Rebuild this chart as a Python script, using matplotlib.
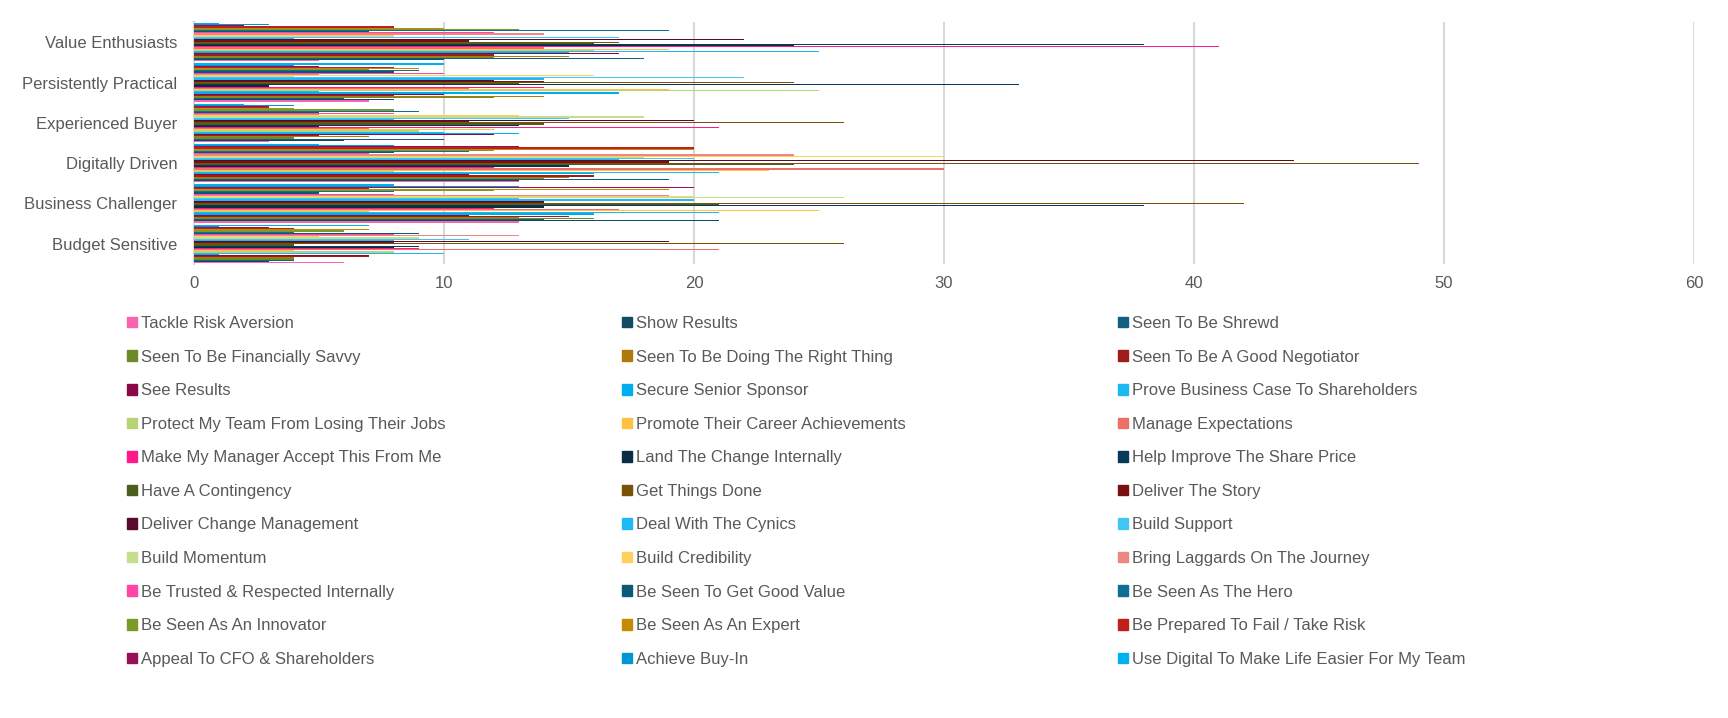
import numpy as np
import matplotlib
matplotlib.use("Agg")
from matplotlib import pyplot as plt
from matplotlib.patches import Patch

plt.rcParams['font.family'] = ['Liberation Sans', 'DejaVu Sans']

categories = ["Budget Sensitive", "Business Challenger", "Digitally Driven",
              "Experienced Buyer", "Persistently Practical", "Value Enthusiasts"]

series_names = [
    "Tackle Risk Aversion", "Show Results", "Seen To Be Shrewd",
    "Seen To Be Financially Savvy", "Seen To Be Doing The Right Thing", "Seen To Be A Good Negotiator",
    "See Results", "Secure Senior Sponsor", "Prove Business Case To Shareholders",
    "Protect My Team From Losing Their Jobs", "Promote Their Career Achievements", "Manage Expectations",
    "Make My Manager Accept This From Me", "Land The Change Internally", "Help Improve The Share Price",
    "Have A Contingency", "Get Things Done", "Deliver The Story",
    "Deliver Change Management", "Deal With The Cynics", "Build Support",
    "Build Momentum", "Build Credibility", "Bring Laggards On The Journey",
    "Be Trusted & Respected Internally", "Be Seen To Get Good Value", "Be Seen As The Hero",
    "Be Seen As An Innovator", "Be Seen As An Expert", "Be Prepared To Fail / Take Risk",
    "Appeal To CFO & Shareholders", "Achieve Buy-In", "Use Digital To Make Life Easier For My Team",
]

series_colors = [
    "#F765B0", "#114A64", "#135F80", "#6E8B2A", "#B07A0A", "#A11B1B",
    "#8A0845", "#00AEEF", "#1EB8F0", "#B5D574", "#FFC043", "#EE6F6A",
    "#FF1A8C", "#0A2C45", "#073A5A", "#4B5F1C", "#7A5205", "#7A1010",
    "#5A0A2E", "#1EBAF5", "#44C6F5", "#C4DE8E", "#FFD060", "#F08680",
    "#FF45A8", "#0B5878", "#0E6E96", "#7A9A2A", "#C68A00", "#C0201C",
    "#99105A", "#0096D6", "#00B0F0",
]

budget_sensitive = [7, 1, 3, 4, 7, 6, 4, 9, 8, 13, 5, 9, 11, 8, 19, 8, 26, 4, 9, 8,
                    9, 21, 4, 8, 10, 1, 7, 7, 4, 4, 4, 3, 6]
business_challenger = [8, 13, 20, 7, 19, 12, 8, 5, 8, 19, 20, 26, 13, 20, 14, 14, 42, 21, 38, 14,
                       12, 17, 25, 7, 21, 16, 11, 15, 13, 16, 14, 21, 13]
digitally_driven = [5, 8, 13, 20, 20, 12, 11, 8, 7, 24, 30, 18, 20, 17, 44, 19, 49, 24, 15, 15,
                    12, 30, 23, 8, 21, 16, 11, 16, 15, 14, 19, 13, 13]
experienced_buyer = [2, 4, 3, 3, 4, 8, 9, 5, 8, 5, 13, 18, 15, 8, 20, 11, 26, 14, 13, 5,
                     21, 7, 12, 9, 10, 13, 12, 5, 7, 4, 10, 6, 3]
persistently_practical = [10, 4, 5, 8, 9, 7, 9, 8, 10, 5, 16, 4, 22, 14, 12, 14, 24, 13, 33, 3,
                          14, 11, 19, 25, 5, 17, 10, 8, 14, 12, 6, 8, 7]
value_enthusiasts = [1, 3, 2, 8, 10, 13, 19, 7, 12, 14, 8, 8, 17, 4, 22, 11, 17, 16, 38, 24,
                     41, 14, 19, 16, 25, 15, 17, 12, 15, 12, 18, 10, 5]

groups = [budget_sensitive, business_challenger, digitally_driven,
          experienced_buyer, persistently_practical, value_enthusiasts]
# first series sits at the bottom of each group, so flip the top-down readings
vals = np.array([g[::-1] for g in groups]).T   # shape (33, 6)

txt = "#595959"
fig = plt.figure(figsize=(17.28, 7.18), dpi=100)
ax = fig.add_axes([194/1728, 1-264/718, 1500/1728, 242/718])

n = len(series_names)
y = np.arange(len(categories))
total = 0.95
h = total / n
for i in range(n):
    ax.barh(y - total/2 + h*(i+0.5), vals[i], height=h, color=series_colors[i],
            label=series_names[i], antialiased=False, zorder=3)

ax.set_xlim(0, 60)
ax.set_ylim(-0.5, len(categories) - 0.5)
ax.set_xticks(range(0, 61, 10))
ax.set_yticks(y)
ax.set_yticklabels(categories)
ax.tick_params(axis='both', length=0, labelsize=12, colors=txt)
ax.tick_params(axis='y', pad=12)
ax.tick_params(axis='x', pad=9)
ax.grid(axis='x', color="#D9D9D9", linewidth=1.5, zorder=0)
for s in ["top", "right", "bottom"]:
    ax.spines[s].set_visible(False)
ax.spines["left"].set_color("#D9D9D9")
ax.spines["left"].set_linewidth(1.5)

# legend: three columns, filled row by row
col_x = [127/1728, 622/1728, 1118/1728]
for c in range(3):
    idx = list(range(c, n, 3))
    handles = [Patch(color=series_colors[k]) for k in idx]
    labels = [series_names[k] for k in idx]
    fig.legend(handles, labels, loc="upper left", bbox_to_anchor=(col_x[c], 1-316/718),
               frameon=False, fontsize=12, labelcolor=txt, borderpad=0, borderaxespad=0,
               handlelength=0.6, handleheight=0.6, handletextpad=0.25, labelspacing=1.115)

fig.savefig("out.png", dpi=100)
